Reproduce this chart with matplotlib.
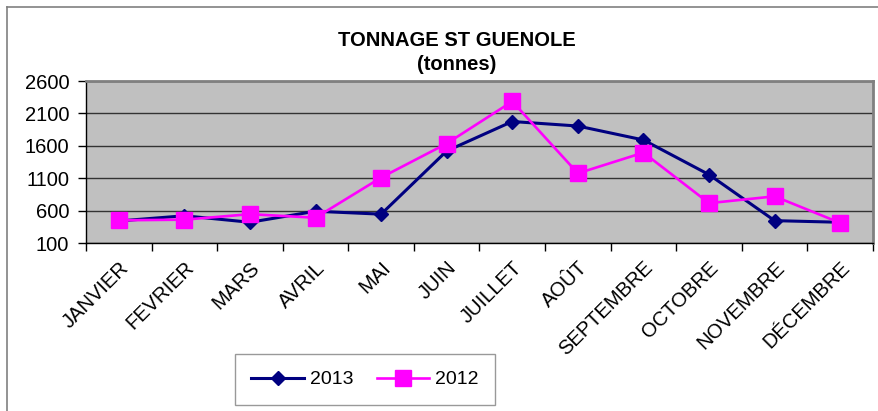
import matplotlib
matplotlib.use("Agg")
import matplotlib.pyplot as plt
from matplotlib.lines import Line2D
import numpy as np

plt.rcParams['font.family'] = ['Liberation Sans', 'DejaVu Sans']

months = ["JANVIER", "FEVRIER", "MARS", "AVRIL", "MAI", "JUIN", "JUILLET",
          "AOÛT", "SEPTEMBRE", "OCTOBRE", "NOVEMBRE", "DÉCEMBRE"]
values_2013 = [440, 520, 420, 590, 545, 1520, 1975, 1905, 1690, 1155, 445, 420]
values_2012 = [450, 460, 545, 490, 1110, 1635, 2285, 1175, 1495, 715, 820, 410]
y_ticks = [100, 600, 1100, 1600, 2100, 2600]

W, H = 879, 411
fig = plt.figure(figsize=(W / 100, H / 100), dpi=100)
fig.patch.set_facecolor('white')

ax = fig.add_axes([86 / W, 1 - 243 / H, (873 - 86) / W, (243 - 81) / H])
ax.set_facecolor('#C0C0C0')

x = np.arange(len(months))
ax.plot(x, values_2013, color='#000080', lw=2.2, marker='D', ms=7.5,
        mfc='#000080', mec='#000080', label='2013', zorder=3)
ax.plot(x, values_2012, color='#FF00FF', lw=1.9, marker='s', ms=11,
        mfc='#FF00FF', mec='#FF00FF', label='2012', zorder=4)

ax.set_ylim(100, 2600)
ax.set_yticks(y_ticks)
ax.set_yticklabels([str(v) for v in y_ticks], fontsize=14.5)
ax.yaxis.grid(True, color='#333333', lw=1)
ax.set_axisbelow(True)
ax.tick_params(axis='y', direction='out', length=6, width=1, color='black', pad=6)

ax.set_xlim(-0.5, len(months) - 0.5)
ax.set_xticks(x)
ax.set_xticks(np.arange(-0.5, len(months), 1.0), minor=True)
ax.set_xticklabels(months, fontsize=14.5, rotation=45, ha='right',
                   rotation_mode='anchor')
ax.tick_params(axis='x', which='major', length=0, pad=11)
ax.tick_params(axis='x', which='minor', direction='out', length=6, width=1, color='black')

for s in ['top', 'right']:
    ax.spines[s].set_color('#808080')
    ax.spines[s].set_linewidth(2)
for s in ['left', 'bottom']:
    ax.spines[s].set_color('black')
    ax.spines[s].set_linewidth(1)

fig.text(457 / W, 1 - 46 / H, "TONNAGE ST GUENOLE", ha='center', va='baseline',
         fontsize=14.5, fontweight='bold')
fig.text(457 / W, 1 - 70 / H, "(tonnes)", ha='center', va='baseline',
         fontsize=14.5, fontweight='bold')

leg = fig.legend(loc='center', bbox_to_anchor=(365 / W, 1 - 379.5 / H), ncol=2,
                 fontsize=14, frameon=True, fancybox=False, borderpad=0.85,
                 handlelength=2.7, columnspacing=1.2, handletextpad=0.3,
                 borderaxespad=0)
leg.get_frame().set_edgecolor('#808080')
leg.get_frame().set_linewidth(1)

fig.add_artist(Line2D([7 / W, 7 / W], [0, 1 - 7 / H], transform=fig.transFigure,
                      color='#808080', lw=1.2))
fig.add_artist(Line2D([7 / W, 1], [1 - 7 / H, 1 - 7 / H], transform=fig.transFigure,
                      color='#808080', lw=1.2))

fig.savefig('out.png', dpi=100)
